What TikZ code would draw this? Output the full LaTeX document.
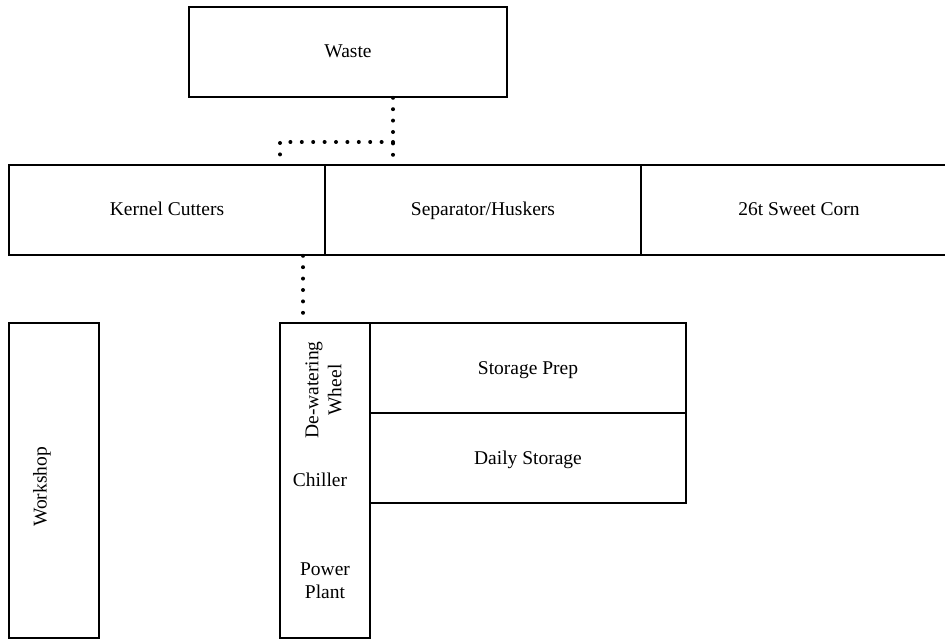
\documentclass[tikz,border=0pt]{standalone}
\usepackage{fontspec}
\setmainfont{Liberation Serif}
\begin{document}
\begin{tikzpicture}[x=1pt,y=-1pt,
  box/.style={draw=black,line width=1.6pt,rectangle,inner sep=0pt,minimum width=316pt,minimum height=90pt},
  lbl/.style={inner sep=0pt,align=center,font=\fontsize{19.5}{23}\selectfont},
  one/.style={text height=15pt,text depth=3pt},
  dots/.style={line width=4pt,line cap=round,dash pattern=on 0pt off 11.4pt}]
\useasboundingbox (0,0) rectangle (945,639);
\clip (0,0) rectangle (945,639);
% top row
\node[box,minimum width=318pt] (waste) at (348,52) {};
\node[box] (kernel) at (167,210) {};
\node[box] (sep) at (483,210) {};
\node[box] (corn) at (799,210) {};
% lower boxes
\node[box,minimum width=90pt,minimum height=315pt] (workshop) at (54,480.5) {};
\node[box,minimum width=90pt,minimum height=315pt] (tall) at (325,480.5) {};
\node[box] (prep) at (528,368) {};
\node[box] (daily) at (528,458) {};
% labels
\node[lbl,one] (twaste) at (waste.center) {Waste};
\node[lbl,one] (tkernel) at (kernel.center) {Kernel Cutters};
\node[lbl,one] (tsep) at (sep.center) {Separator/Huskers};
\node[lbl,one] (tcorn) at (corn.center) {26t Sweet Corn};
\node[lbl,one] (tprep) at (prep.center) {Storage Prep};
\node[lbl,one] (tdaily) at (daily.center) {Daily Storage};
\node[lbl,rotate=90] (tworkshop) at (42,487) {Workshop};
\node[lbl,rotate=90] (tdew) at (323.5,390) {De-watering\\Wheel};
\node[lbl,one] (tchill) at (320,480) {Chiller};
\node[lbl] (tpower) at (325,581) {Power\\Plant};
% dotted connectors
\coordinate (j) at (393,142);
\coordinate (jk) at (280,142);
\draw[dots] (j |- waste.south) -- (j |- sep.north);
\draw[dots] (j) -- (jk) -- (jk |- kernel.north);
\coordinate (k) at (303,0);
\draw[dots] (k |- kernel.south) -- (k |- tall.north);
\end{tikzpicture}
\end{document}
